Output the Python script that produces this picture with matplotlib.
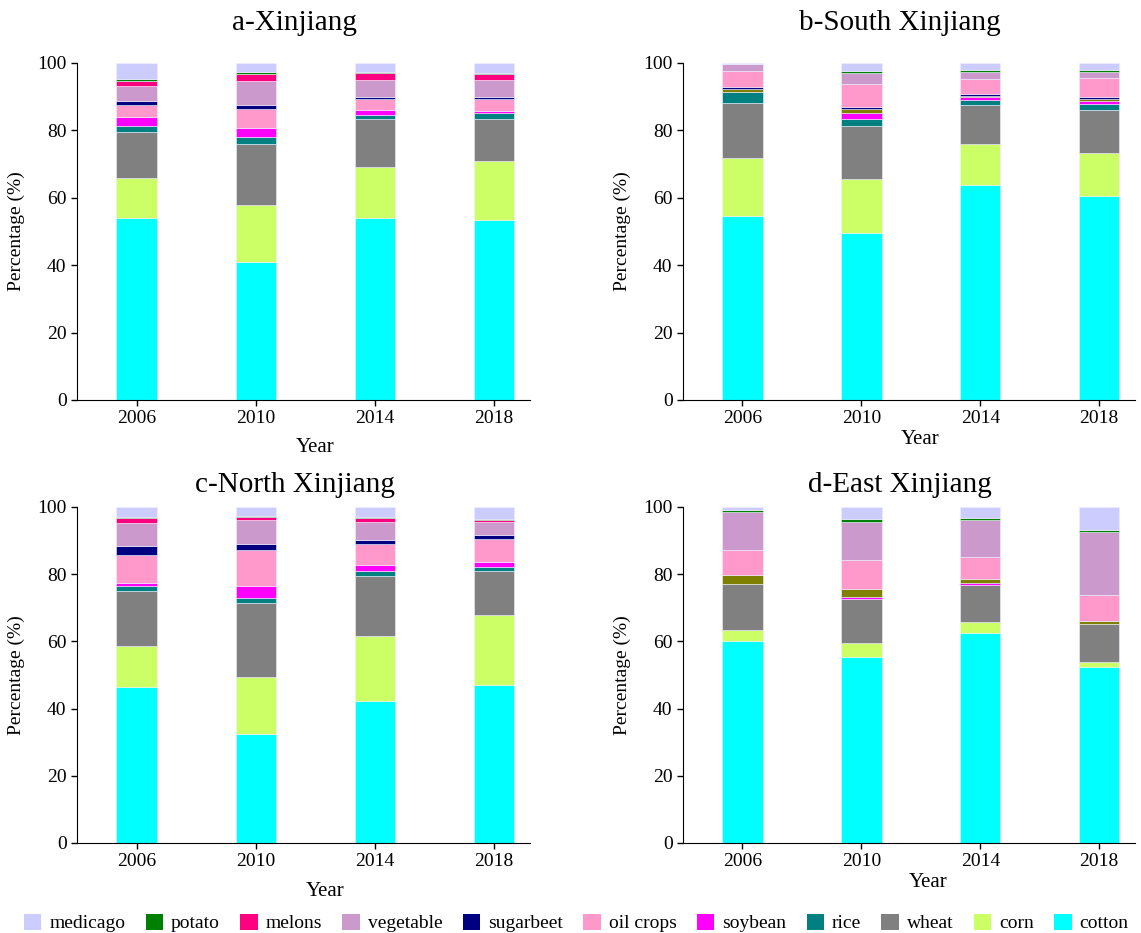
import matplotlib
matplotlib.use('Agg')
import matplotlib.pyplot as plt
from matplotlib.patches import Patch

plt.rcParams['font.family'] = ['Liberation Serif', 'DejaVu Serif']

years = ['2006', '2010', '2014', '2018']

colors = {
    'medicago': '#ccccff', 'potato': '#008000', 'melons': '#ff0080',
    'vegetable': '#cc99cc', 'sugarbeet': '#000080', 'oil crops': '#ff99cc',
    'soybean': '#ff00ff', 'rice': '#008080', 'wheat': '#808080',
    'corn': '#ccff66', 'cotton': '#00ffff', 'other': '#808000',
}
legend_crops = ['medicago', 'potato', 'melons', 'vegetable', 'sugarbeet',
                'oil crops', 'soybean', 'rice', 'wheat', 'corn', 'cotton']

# percentage of sown area
xinjiang = {
    'cotton':    [54.0, 41.0, 54.0, 53.5],
    'corn':      [12.0, 17.0, 15.0, 17.5],
    'wheat':     [13.5, 18.0, 14.3, 12.4],
    'rice':      [1.9, 2.0, 1.4, 1.8],
    'soybean':   [2.5, 2.7, 1.4, 0.6],
    'oil crops': [3.5, 5.7, 3.3, 3.6],
    'sugarbeet': [1.2, 1.0, 0.6, 0.6],
    'vegetable': [4.7, 7.2, 5.0, 5.0],
    'melons':    [1.5, 2.1, 1.9, 1.6],
    'potato':    [0.4, 0.6, 0.4, 0.4],
    'medicago':  [4.8, 2.7, 2.7, 3.0],
}
south = {
    'cotton':    [54.7, 49.5, 63.8, 60.6],
    'corn':      [17.1, 16.1, 12.1, 12.7],
    'wheat':     [16.3, 15.6, 11.6, 12.8],
    'rice':      [3.2, 2.2, 1.5, 1.7],
    'soybean':   [0.0, 1.8, 0.8, 1.0],
    'other':     [1.0, 1.2, 0.5, 0.5],
    'sugarbeet': [0.5, 0.5, 0.4, 0.5],
    'oil crops': [4.7, 6.9, 4.6, 5.7],
    'vegetable': [2.1, 3.1, 2.1, 1.9],
    'potato':    [0.0, 0.6, 0.5, 0.5],
    'medicago':  [0.4, 2.5, 2.1, 2.1],
}
north = {
    'cotton':    [46.3, 32.5, 42.3, 47.0],
    'corn':      [12.2, 17.0, 19.2, 21.0],
    'wheat':     [16.5, 21.8, 17.9, 12.9],
    'rice':      [1.6, 1.5, 1.5, 1.2],
    'soybean':   [0.7, 3.8, 1.8, 1.4],
    'oil crops': [8.4, 10.5, 6.4, 7.1],
    'sugarbeet': [2.7, 1.8, 1.2, 1.2],
    'vegetable': [6.7, 7.2, 5.1, 3.6],
    'melons':    [1.5, 0.8, 1.2, 0.6],
    'potato':    [0.5, 0.5, 0.4, 0.4],
    'medicago':  [2.9, 2.6, 3.0, 3.6],
}
east = {
    'cotton':    [60.0, 55.3, 62.5, 52.3],
    'corn':      [3.3, 4.2, 3.2, 1.5],
    'wheat':     [13.7, 13.0, 11.1, 11.5],
    'soybean':   [0.0, 0.8, 0.5, 0.0],
    'other':     [2.8, 2.3, 1.2, 0.9],
    'oil crops': [7.4, 8.6, 6.5, 7.5],
    'vegetable': [11.2, 11.2, 11.0, 18.8],
    'potato':    [0.8, 0.9, 0.6, 0.6],
    'medicago':  [0.8, 3.7, 3.4, 6.9],
}

# title, data, axes rect, xlabel position, title pad
panels = [
    ('a-Xinjiang', xinjiang, [0.0675, 0.5713, 0.397, 0.3612], (0.525, -0.113), 24),
    ('b-South Xinjiang', south, [0.5986, 0.5713, 0.396, 0.3612], (0.524, -0.089), 24),
    ('c-North Xinjiang', north, [0.0675, 0.0965, 0.397, 0.3601], (0.547, -0.116), 11),
    ('d-East Xinjiang', east, [0.5986, 0.0965, 0.396, 0.3601], (0.542, -0.089), 11),
]

fig = plt.figure(figsize=(11.41, 9.33), dpi=100)

for title, data, rect, lab, pad in panels:
    ax = fig.add_axes(rect)
    x = list(range(len(years)))
    bottom = [0.0] * len(years)
    for crop, vals in data.items():
        ax.bar(x, vals, width=0.34, bottom=bottom, color=colors[crop],
               edgecolor='#f0f0ff', linewidth=0.4)
        bottom = [b + v for b, v in zip(bottom, vals)]
    ax.set_xlim(-0.5, 3.3)
    ax.set_ylim(0, 100)
    ax.set_xticks(x)
    ax.set_xticklabels(years)
    ax.set_yticks([0, 20, 40, 60, 80, 100])
    ax.tick_params(labelsize=14, length=4, width=1)
    ax.spines['top'].set_visible(False)
    ax.spines['right'].set_visible(False)
    ax.set_title(title, fontsize=21, pad=pad, x=0.48)
    ax.set_xlabel('Year', fontsize=15)
    ax.xaxis.set_label_coords(*lab)
    ax.set_ylabel('Percentage (%)', fontsize=14)
    ax.yaxis.set_label_coords(-0.115, 0.5)

handles = [Patch(facecolor=colors[c], edgecolor='none', label=c) for c in legend_crops]
fig.legend(handles=handles, loc='lower center', bbox_to_anchor=(0.505, -0.018),
           ncol=11, frameon=False, fontsize=14, handlelength=0.9,
           handleheight=0.9, handletextpad=0.4, columnspacing=1.05)

fig.savefig('out.png', dpi=100)
